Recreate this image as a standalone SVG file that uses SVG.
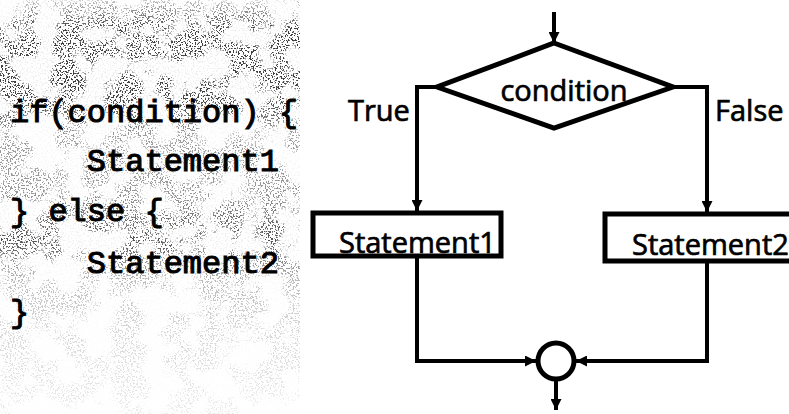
<svg xmlns="http://www.w3.org/2000/svg" width="789" height="414" viewBox="0 0 789 414">
  <style>
    .code { font-family: "Liberation Mono", "Courier New", monospace; font-size: 32px; fill: #000; stroke: #000; stroke-width: 1.1; white-space: pre; }
    .lbl { font-family: "Open Sans", "Noto Sans", sans-serif; font-size: 29px; fill: #000; stroke: #000; stroke-width: 0.7; }
    .shape { fill: #fff; stroke: #000; stroke-width: 5; stroke-linejoin: miter; }
    .wire { fill: none; stroke: #000; stroke-width: 4; }
  </style>
  <defs>
    <marker id="head" viewBox="0 0 10 10" refX="10" refY="5" markerWidth="11" markerHeight="11" markerUnits="userSpaceOnUse" orient="auto">
      <path d="M0,0 L10,5 L0,10 Z" fill="#000"/>
    </marker>
    <!-- speckle texture: fine grain gated by coarse clouds -->
    <filter id="grain" x="0" y="0" width="100%" height="100%">
      <feTurbulence type="fractalNoise" baseFrequency="0.6" numOctaves="2" seed="3" result="fine"/>
      <feColorMatrix in="fine" type="matrix" values="0 0 0 0 0  0 0 0 0 0  0 0 0 0 0  0 0 0 12 -6.6" result="fineA"/>
      <feTurbulence type="fractalNoise" baseFrequency="0.035" numOctaves="3" seed="21" result="coarse"/>
      <feColorMatrix in="coarse" type="matrix" values="0 0 0 0 0  0 0 0 0 0  0 0 0 0 0  0 0 0 5 -2.1" result="coarseA"/>
      <feComposite in="fineA" in2="coarseA" operator="arithmetic" k1="1.4" k2="0.08" k3="0" k4="0" result="mix"/>
      <feColorMatrix in="mix" type="matrix" values="0 0 0 0 0.05  0 0 0 0 0.05  0 0 0 0 0.05  0 0 0 1 0"/>
    </filter>
    <linearGradient id="density" x1="0" y1="0" x2="0" y2="1">
      <stop offset="0" stop-color="#fff" stop-opacity="0.3"/>
      <stop offset="0.07" stop-color="#fff" stop-opacity="1"/>
      <stop offset="0.23" stop-color="#fff" stop-opacity="1"/>
      <stop offset="0.33" stop-color="#fff" stop-opacity="0.5"/>
      <stop offset="0.47" stop-color="#fff" stop-opacity="0.55"/>
      <stop offset="0.58" stop-color="#fff" stop-opacity="0.9"/>
      <stop offset="0.68" stop-color="#fff" stop-opacity="0.35"/>
      <stop offset="0.8" stop-color="#fff" stop-opacity="0.2"/>
      <stop offset="1" stop-color="#fff" stop-opacity="0.1"/>
    </linearGradient>
    <mask id="densityMask">
      <rect x="0" y="0" width="300" height="414" fill="url(#density)"/>
    </mask>
  </defs>

  <rect width="789" height="414" fill="#fff"/>

  <!-- code panel -->
  <g id="code">
    <rect x="0" y="0" width="300" height="414" filter="url(#grain)" mask="url(#densityMask)"/>
    <text class="code" x="10" y="122">if(condition) {</text>
    <text class="code" x="10" y="171">    Statement1</text>
    <text class="code" x="10" y="221">} else {</text>
    <text class="code" x="10" y="273">    Statement2</text>
    <text class="code" x="10" y="322">}</text>
  </g>

  <!-- connectors -->
  <g id="connectors">
    <line class="wire" x1="554" y1="12" x2="554" y2="43" marker-end="url(#head)"/>
    <polyline class="wire" points="437,87 417,87 417,211" marker-end="url(#head)"/>
    <polyline class="wire" points="673,87 707,87 707,212" marker-end="url(#head)"/>
    <polyline class="wire" points="417,256 417,361 536,361" marker-end="url(#head)"/>
    <polyline class="wire" points="707,261 707,361 576,361" marker-end="url(#head)"/>
    <line class="wire" x1="556" y1="380" x2="556" y2="410" marker-end="url(#head)"/>
    <text class="lbl" x="348" y="121">True</text>
    <text class="lbl" x="715" y="121">False</text>
  </g>

  <g id="decision">
    <polygon class="shape" points="554,43 673,87 554,128 437,87"/>
    <text class="lbl" x="564" y="101" text-anchor="middle">condition</text>
  </g>

  <g id="statement1">
    <rect class="shape" x="313" y="213" width="188" height="43"/>
    <text class="lbl" x="339" y="253">Statement1</text>
  </g>

  <g id="statement2">
    <rect class="shape" x="605" y="214" width="190" height="47"/>
    <text class="lbl" x="632" y="255">Statement2</text>
  </g>

  <g id="merge">
    <circle class="shape" cx="556" cy="361" r="18"/>
  </g>
</svg>
